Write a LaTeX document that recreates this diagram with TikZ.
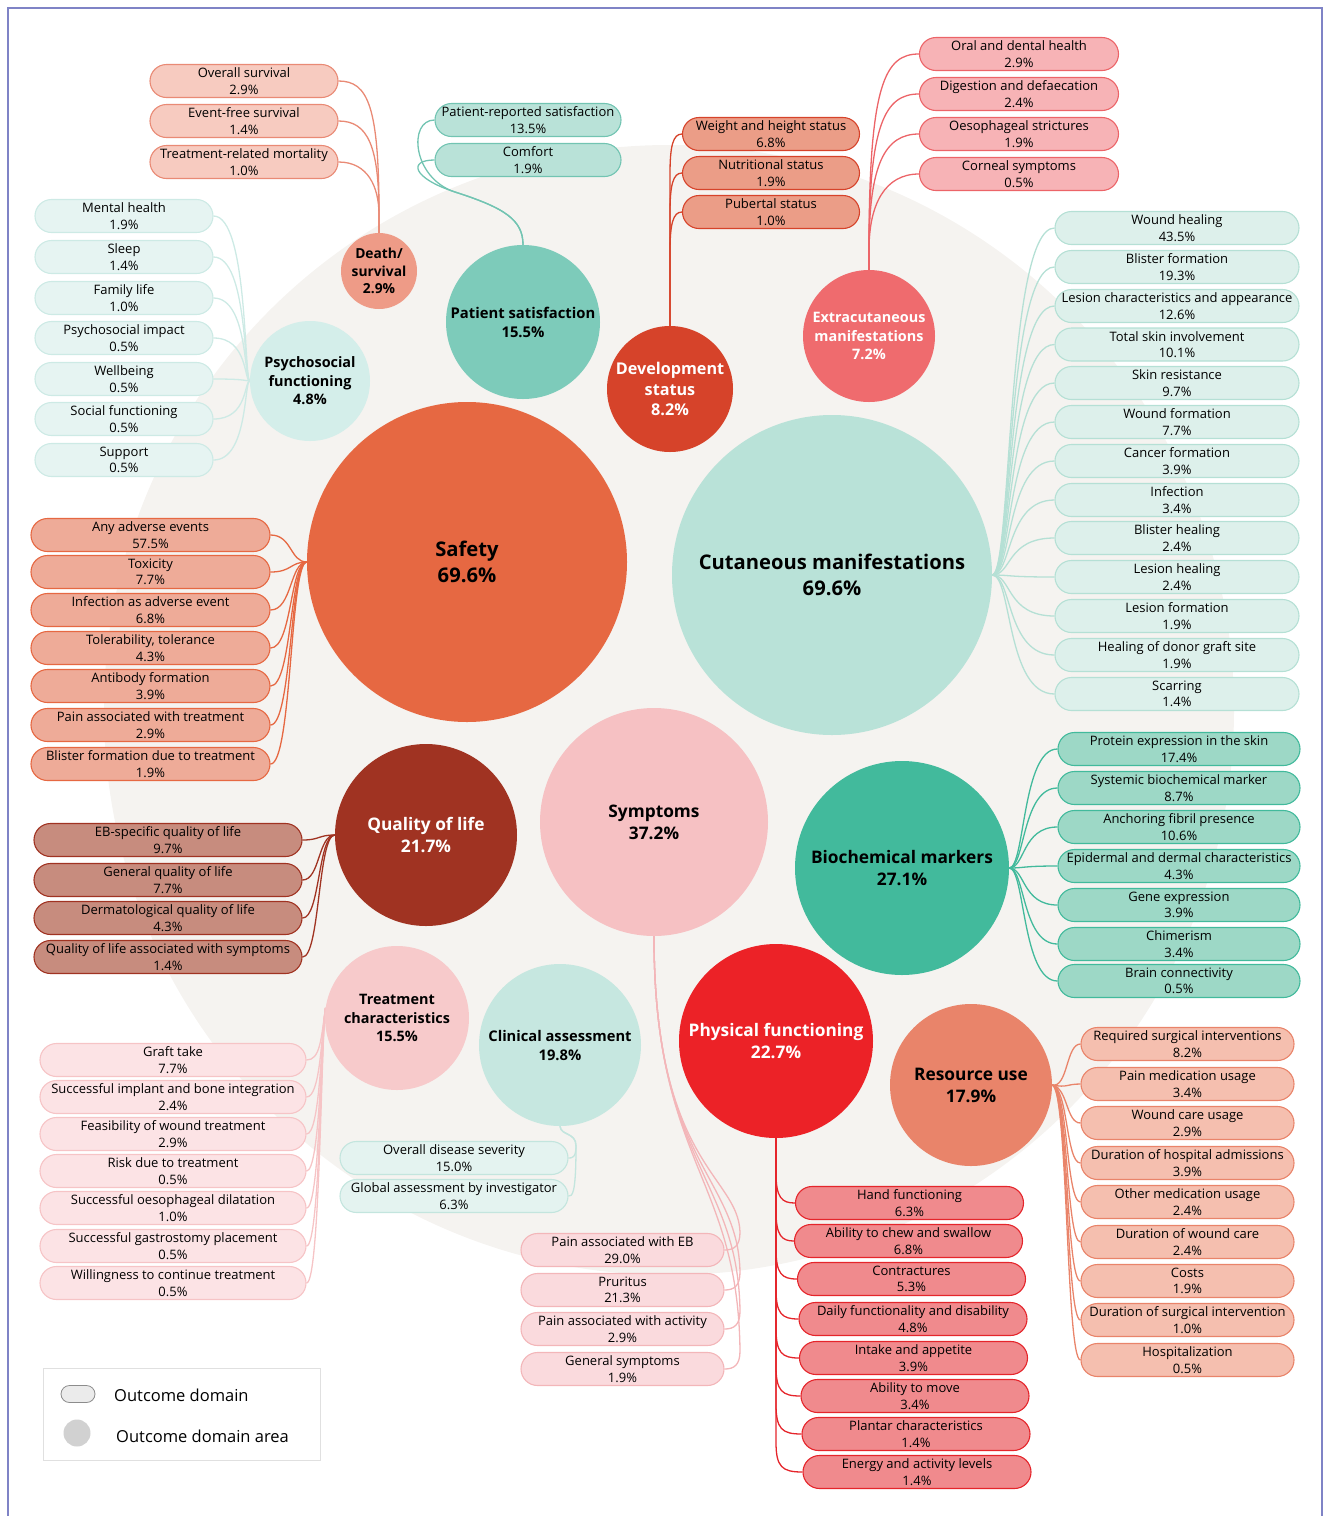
\documentclass[tikz,border=0pt]{standalone}
\usepackage{fontspec}
\setmainfont{Open Sans}
\usetikzlibrary{calc}
\pgfdeclarelayer{bg}
\pgfdeclarelayer{lines}
\pgfsetlayers{bg,lines,main}
\definecolor{cBg}{HTML}{F5F3F0}
\definecolor{cFrame}{HTML}{7F83C6}
\definecolor{cDth}{HTML}{EE9B87}\definecolor{cDthL}{HTML}{F7CBC0}\definecolor{cDthD}{HTML}{E98A75}
\definecolor{cPs}{HTML}{7DCBBA}\definecolor{cPsL}{HTML}{B9E2D8}\definecolor{cPsD}{HTML}{72C4B2}
\definecolor{cPy}{HTML}{D4EEEA}\definecolor{cPyL}{HTML}{E6F4F2}\definecolor{cPyD}{HTML}{CDEAE5}
\definecolor{cDv}{HTML}{D6432A}\definecolor{cDvL}{HTML}{EB9D87}\definecolor{cDvD}{HTML}{D6432A}
\definecolor{cEx}{HTML}{EF6B6E}\definecolor{cExL}{HTML}{F7B3B6}\definecolor{cExD}{HTML}{EC6468}
\definecolor{cSa}{HTML}{E66842}\definecolor{cSaL}{HTML}{EEAB98}\definecolor{cSaD}{HTML}{E66842}
\definecolor{cCu}{HTML}{B9E2D8}\definecolor{cCuL}{HTML}{DDF0EB}\definecolor{cCuD}{HTML}{B5E0D5}
\definecolor{cQl}{HTML}{A03322}\definecolor{cQlL}{HTML}{C78C7E}\definecolor{cQlD}{HTML}{A03322}
\definecolor{cSy}{HTML}{F6C1C3}\definecolor{cSyL}{HTML}{FADADD}\definecolor{cSyD}{HTML}{F3B6B9}
\definecolor{cBi}{HTML}{42BA9C}\definecolor{cBiL}{HTML}{9DD8C6}\definecolor{cBiD}{HTML}{42BA9C}
\definecolor{cTr}{HTML}{F7CACB}\definecolor{cTrL}{HTML}{FCE3E5}\definecolor{cTrD}{HTML}{F6C4C6}
\definecolor{cCl}{HTML}{C6E7E0}\definecolor{cClL}{HTML}{E4F3F0}\definecolor{cClD}{HTML}{C3E5DE}
\definecolor{cPh}{HTML}{EC2227}\definecolor{cPhL}{HTML}{F08A8D}\definecolor{cPhD}{HTML}{E5252B}
\definecolor{cRs}{HTML}{E9846A}\definecolor{cRsL}{HTML}{F5BFAF}\definecolor{cRsD}{HTML}{E9846A}
\begin{document}
\begin{tikzpicture}[x=1pt,y=-1pt,
  circ/.style={circle, inner sep=0pt, align=center, font=\bfseries\fontsize{14.4}{18.5}\selectfont},
  bigcirc/.style={circ, font=\bfseries\fontsize{20.2}{26}\selectfont},
  midcirc/.style={circ, font=\bfseries\fontsize{17.3}{22}\selectfont},
  pill/.style={rectangle, rounded corners=16.5pt, minimum height=33pt, inner sep=0pt, align=center, line width=1.1pt, font=\fontsize{13}{16.5}\selectfont},
  conn/.style={line width=1.3pt}]
\useasboundingbox (0,0) rectangle (1325,1516);
\begin{pgfonlayer}{bg}
\fill[cBg] (669,710) circle[radius=565];
\end{pgfonlayer}
\draw[cFrame, line width=2pt] (8,1520) -- (8,8) -- (1322,8) -- (1322,1520);
% circles
\node[circ, fill=cDth, minimum size=76pt, font=\bfseries\fontsize{13.8}{17.5}\selectfont] (dth) at (379,271) {Death/\\survival\\2.9\%};
\node[circ, fill=cPs, minimum size=154pt, font=\bfseries\fontsize{14.8}{19}\selectfont] (pst) at (523,322) {Patient satisfaction\\15.5\%};
\node[circ, fill=cPy, minimum size=120pt] (psy) at (310,381) {Psychosocial\\functioning\\4.8\%};
\node[circ, fill=cDv, text=white, minimum size=126pt, font=\bfseries\fontsize{16.2}{20.5}\selectfont] (dev) at (670,389) {Development\\status\\8.2\%};
\node[circ, fill=cEx, text=white, minimum size=132pt] (ext) at (869,336) {Extracutaneous\\manifestations\\7.2\%};
\node[bigcirc, fill=cSa, minimum size=320pt] (saf) at (467,562) {Safety\\69.6\%};
\node[bigcirc, fill=cCu, minimum size=320pt] (cut) at (832,575) {Cutaneous manifestations\\69.6\%};
\node[midcirc, fill=cQl, text=white, minimum size=182pt] (qol) at (426,835) {Quality of life\\21.7\%};
\node[midcirc, fill=cSy, minimum size=228pt] (sym) at (654,822) {Symptoms\\37.2\%};
\node[midcirc, fill=cBi, minimum size=214pt] (bio) at (902,868) {Biochemical markers\\27.1\%};
\node[circ, fill=cTr, minimum size=144pt] (trc) at (397,1018) {Treatment\\characteristics\\15.5\%};
\node[circ, fill=cCl, minimum size=162pt, font=\bfseries\fontsize{14.7}{19}\selectfont] (cla) at (560,1045) {Clinical assessment\\19.8\%};
\node[midcirc, fill=cPh, text=white, minimum size=194pt] (phy) at (776,1041) {Physical functioning\\22.7\%};
\node[midcirc, fill=cRs, minimum size=162pt] (res) at (971,1085) {Resource use\\17.9\%};
% Death/survival
\foreach \nn/\lab/\pc/\yy in {1/Overall survival/2.9/81, 2/Event-free survival/1.4/121, 3/Treatment-related mortality/1.0/162}{
  \node[pill, draw=cDthD, fill=cDthL, minimum width=188pt] (ds\nn) at (244,\yy) {\lab\\\pc\%};
  \begin{pgfonlayer}{lines}
  \draw[conn, cDthD] (ds\nn.east) .. controls (368,\yy) and (379,\yy+25) .. (379,215) -- (dth.north);
  \end{pgfonlayer}
}
% Patient satisfaction
\foreach \nn/\lab/\pc/\yy in {1/Patient-reported satisfaction/13.5/120, 2/Comfort/1.9/160}{
  \node[pill, draw=cPsD, fill=cPsL, minimum width=186pt] (ps\nn) at (528,\yy) {\lab\\\pc\%};
  \begin{pgfonlayer}{lines}
  \draw[conn, cPsD] (ps\nn.west) .. controls (408,\yy) and (412,178) .. (455,192) .. controls (505,208) and (523,220) .. (pst.north);
  \end{pgfonlayer}
}
% Psychosocial
\foreach \nn/\lab/\pc/\yy in {1/Mental health/1.9/216, 2/Sleep/1.4/257, 3/Family life/1.0/298, 4/Psychosocial impact/0.5/338, 5/Wellbeing/0.5/379, 6/Social functioning/0.5/419, 7/Support/0.5/460}{
  \node[pill, draw=cPyD, fill=cPyL, minimum width=178pt] (py\nn) at (124,\yy) {\lab\\\pc\%};
  \begin{pgfonlayer}{lines}
  \draw[conn, cPyD] (py\nn.east) .. controls (248,\yy) and (244,381) .. (psy.west);
  \end{pgfonlayer}
}
% Development
\foreach \nn/\lab/\pc/\yy in {1/Weight and height status/6.8/134, 2/Nutritional status/1.9/173, 3/Pubertal status/1.0/212}{
  \node[pill, draw=cDvD, fill=cDvL, minimum width=177pt] (dv\nn) at (771,\yy) {\lab\\\pc\%};
  \begin{pgfonlayer}{lines}
  \draw[conn, cDvD] (dv\nn.west) .. controls (673,\yy) and (670,\yy+12) .. (670,\yy+40) -- (dev.north);
  \end{pgfonlayer}
}
% Extracutaneous
\foreach \nn/\lab/\pc/\yy in {1/Oral and dental health/2.9/54, 2/Digestion and defaecation/2.4/94, 3/Oesophageal strictures/1.9/134, 4/Corneal symptoms/0.5/174}{
  \node[pill, draw=cExD, fill=cExL, minimum width=199pt] (ex\nn) at (1019,\yy) {\lab\\\pc\%};
  \begin{pgfonlayer}{lines}
  \draw[conn, cExD] (ex\nn.west) .. controls (885,\yy) and (869,\yy+30) .. (869,250) -- (ext.north);
  \end{pgfonlayer}
}
% Cutaneous
\foreach \nn/\lab/\pc/\yy in {1/Wound healing/43.5/228, 2/Blister formation/19.3/267, 3/Lesion characteristics and appearance/12.6/306, 4/Total skin involvement/10.1/344.5, 5/Skin resistance/9.7/383, 6/Wound formation/7.7/422, 7/Cancer formation/3.9/461, 8/Infection/3.4/500, 9/Blister healing/2.4/538, 10/Lesion healing/2.4/577, 11/Lesion formation/1.9/616, 12/Healing of donor graft site/1.9/655, 13/Scarring/1.4/694}{
  \node[pill, draw=cCuD, fill=cCuL, minimum width=244pt] (cu\nn) at (1177,\yy) {\lab\\\pc\%};
  \begin{pgfonlayer}{lines}
  \draw[conn, cCuD] (cu\nn.west) .. controls (1006,\yy) and (1012,575) .. (cut.east);
  \end{pgfonlayer}
}
% Safety
\foreach \nn/\lab/\pc/\yy in {1/Any adverse events/57.5/535, 2/Toxicity/7.7/572, 3/Infection as adverse event/6.8/610, 4/{Tolerability, tolerance}/4.3/648, 5/Antibody formation/3.9/686, 6/Pain associated with treatment/2.9/725, 7/Blister formation due to treatment/1.9/764}{
  \node[pill, draw=cSaD, fill=cSaL, minimum width=239pt] (sa\nn) at (150.5,\yy) {\lab\\\pc\%};
  \begin{pgfonlayer}{lines}
  \draw[conn, cSaD] (sa\nn.east) .. controls (292,\yy) and (290,562) .. (saf.west);
  \end{pgfonlayer}
}
% Quality of life
\foreach \nn/\lab/\pc/\yy in {1/EB-specific quality of life/9.7/840, 2/General quality of life/7.7/880, 3/Dermatological quality of life/4.3/918, 4/Quality of life associated with symptoms/1.4/957}{
  \node[pill, draw=cQlD, fill=cQlL, minimum width=268pt] (ql\nn) at (168,\yy) {\lab\\\pc\%};
  \begin{pgfonlayer}{lines}
  \draw[conn, cQlD] (ql\nn.east) .. controls (320,\yy) and (318,835) .. (qol.west);
  \end{pgfonlayer}
}
% Symptoms
\foreach \nn/\lab/\pc/\yy in {1/Pain associated with EB/29.0/1250, 2/Pruritus/21.3/1290, 3/Pain associated with activity/2.9/1329, 4/General symptoms/1.9/1369}{
  \node[pill, draw=cSyD, fill=cSyL, minimum width=203pt] (sy\nn) at (622.5,\yy) {\lab\\\pc\%};
  \begin{pgfonlayer}{lines}
  \draw[conn, cSyD] (sym.south) .. controls (654,1165) and (738,1175) .. (740,\yy-18) .. controls (740,\yy-4) and (734,\yy) .. (sy\nn.east);
  \end{pgfonlayer}
}
% Treatment characteristics
\foreach \nn/\lab/\pc/\yy in {1/Graft take/7.7/1060, 2/Successful implant and bone integration/2.4/1097, 3/Feasibility of wound treatment/2.9/1134, 4/Risk due to treatment/0.5/1171, 5/Successful oesophageal dilatation/1.0/1208, 6/Successful gastrostomy placement/0.5/1246, 7/Willingness to continue treatment/0.5/1283}{
  \node[pill, draw=cTrD, fill=cTrL, minimum width=266pt] (tr\nn) at (173,\yy) {\lab\\\pc\%};
  \begin{pgfonlayer}{lines}
  \draw[conn, cTrD] (tr\nn.east) .. controls (320,\yy) and (321,1040) .. (trc.172);
  \end{pgfonlayer}
}
% Clinical assessment
\foreach \nn/\lab/\pc/\yy in {1/Overall disease severity/15.0/1158, 2/Global assessment by investigator/6.3/1196}{
  \node[pill, draw=cClD, fill=cClL, minimum width=228pt] (cl\nn) at (454,\yy) {\lab\\\pc\%};
  \begin{pgfonlayer}{lines}
  \draw[conn, cClD] (cla.south) .. controls (561,1136) and (576,1132) .. (576,1146) .. controls (576,\yy) and (572,\yy) .. (cl\nn.east);
  \end{pgfonlayer}
}
% Physical functioning
\foreach \nn/\lab/\pc/\xx/\yy in {1/Hand functioning/6.3/909.5/1203, 2/Ability to chew and swallow/6.8/908.5/1241, 3/Contractures/5.3/911.5/1279, 4/Daily functionality and disability/4.8/913/1319, 5/Intake and appetite/3.9/913.5/1358, 6/Ability to move/3.4/915/1396, 7/Plantar characteristics/1.4/916/1434, 8/Energy and activity levels/1.4/917/1472}{
  \node[pill, draw=cPhD, fill=cPhL, minimum width=228pt] (ph\nn) at (\xx,\yy) {\lab\\\pc\%};
  \begin{pgfonlayer}{lines}
  \draw[conn, cPhD] (phy.south) -- (776,\yy-30) .. controls (776,\yy-5) and (782,\yy) .. (ph\nn.west);
  \end{pgfonlayer}
}
% Resource use
\foreach \nn/\lab/\pc/\yy in {1/Required surgical interventions/8.2/1044, 2/Pain medication usage/3.4/1084, 3/Wound care usage/2.9/1123, 4/Duration of hospital admissions/3.9/1163, 5/Other medication usage/2.4/1202, 6/Duration of wound care/2.4/1242, 7/Costs/1.9/1281, 8/Duration of surgical intervention/1.0/1320, 9/Hospitalization/0.5/1360}{
  \node[pill, draw=cRsD, fill=cRsL, minimum width=213pt] (rs\nn) at (1187.5,\yy) {\lab\\\pc\%};
  \begin{pgfonlayer}{lines}
  \draw[conn, cRsD] (res.east) .. controls (1068,1088) and (1066,\yy) .. (rs\nn.west);
  \end{pgfonlayer}
}
% Biochemical markers
\foreach \nn/\lab/\pc/\yy in {1/Protein expression in the skin/17.4/749, 2/Systemic biochemical marker/8.7/788, 3/Anchoring fibril presence/10.6/827, 4/Epidermal and dermal characteristics/4.3/866, 5/Gene expression/3.9/905, 6/Chimerism/3.4/944, 7/Brain connectivity/0.5/981}{
  \node[pill, draw=cBiD, fill=cBiL, minimum width=242pt] (bi\nn) at (1179,\yy) {\lab\\\pc\%};
  \begin{pgfonlayer}{lines}
  \draw[conn, cBiD] (bio.east) .. controls (1025,868) and (1022,\yy) .. (bi\nn.west);
  \end{pgfonlayer}
}
% Legend
\node[draw=black!12, fill=white, line width=1pt, minimum width=277pt, minimum height=92pt, inner sep=0pt] (leg) at (181.5,1414) {};
\node[draw=black!45, fill=black!8, rounded corners=8.5pt, minimum width=34pt, minimum height=17pt, inner sep=0pt, line width=0.8pt] (legp) at (78,1394) {};
\node[anchor=west, inner sep=0pt, font=\fontsize{16.5}{20}\selectfont] (legt1) at (114,1395) {Outcome domain};
\node[circle, fill=black!18, minimum size=27pt, inner sep=0pt] (legc) at (77,1433) {};
\node[anchor=west, inner sep=0pt, font=\fontsize{16.5}{20}\selectfont] (legt2) at (116,1436) {Outcome domain area};
\end{tikzpicture}
\end{document}
